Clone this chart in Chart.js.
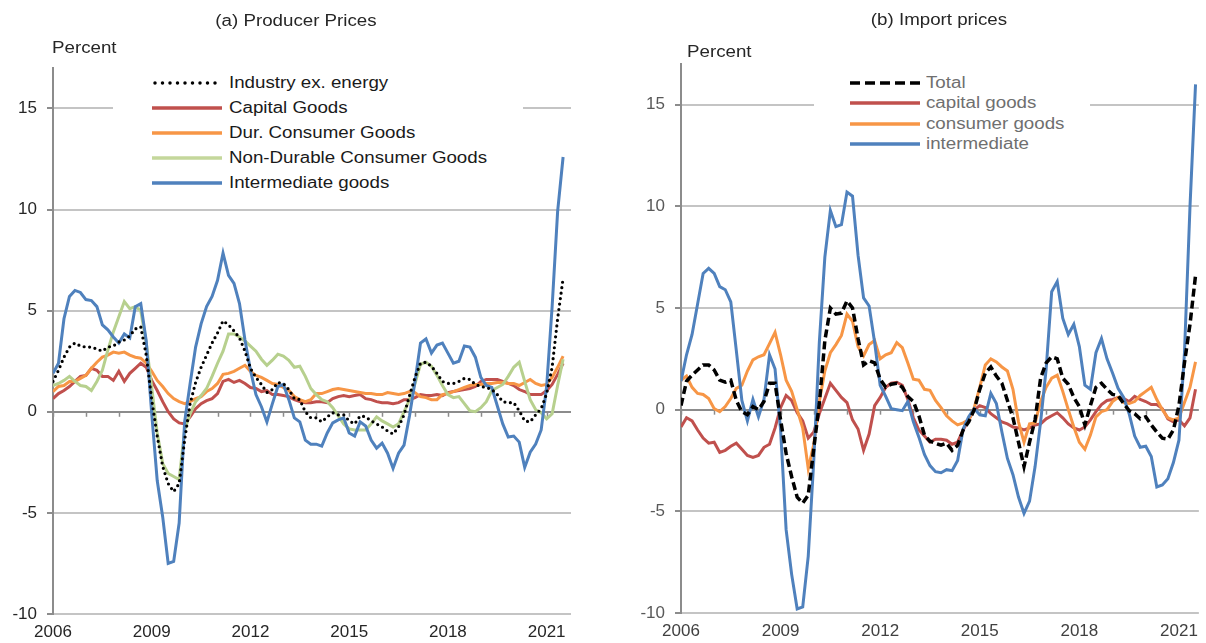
<!DOCTYPE html>
<html>
<head>
<meta charset="utf-8">
<script src="https://cdn.jsdelivr.net/npm/chart.js@4.4.1/dist/chart.umd.min.js"></script>
<style>
  body { margin: 0; background: #fff; font-family: "Liberation Sans", Arial, sans-serif; }
  #wrap { position: relative; width: 1206px; height: 643px; overflow: hidden; }
  .panel { position: absolute; top: 0; width: 603px; height: 643px; }
  .txt { position: absolute; font-size: 16px; line-height: 18px; white-space: nowrap; }
  .title { transform: translateX(-50%) scaleX(1.17); color: #262626; }
  .unit { transform: scaleX(1.17); transform-origin: left center; color: #262626; }
  .legend { position: absolute; background: #fff; font-size: 16px; }
  .legend .row { display: flex; align-items: center; white-space: nowrap; }
  .legend svg { display: block; flex: none; }
  .legend .lab { display: inline-block; transform: scaleX(1.17); transform-origin: left center; }
</style>
</head>
<body>
<div id="wrap">
  <div class="panel" style="left:0">
    <canvas id="leftChart" width="603" height="643"></canvas>
    <div class="txt title" style="left:296px; top:12px">(a) Producer Prices</div>
    <div class="txt unit" style="left:52px; top:39px">Percent</div>
    <div class="legend" id="leftLegend" style="left:113px; top:70px; width:410px; padding-left:39px; box-sizing:border-box; color:#1a1a1a"></div>
  </div>
  <div class="panel" style="left:603px">
    <canvas id="rightChart" width="603" height="643"></canvas>
    <div class="txt title" style="left:336px; top:11px">(b) Import prices</div>
    <div class="txt unit" style="left:84px; top:43px">Percent</div>
    <div class="legend" id="rightLegend" style="left:211px; top:73px; width:276px; padding-left:36px; box-sizing:border-box; color:#6f6f6f"></div>
  </div>
</div>
<script>
// bimonthly observations, Jan 2006 .. Jul 2021
const dates = Array.from({ length: 94 }, (_, k) => 2006 + k / 6);
const xLabels = [2006, 2009, 2012, 2015, 2018, 2021];
const yTicks = [-10, -5, 0, 5, 10, 15];
const yearMarks = [2006, 2007, 2008, 2009, 2010, 2011, 2012, 2013, 2014, 2015, 2016, 2017, 2018, 2019, 2020, 2021];

// (a) producer prices
const industryExEnergy = [
  1.5, 2.05, 2.7, 3.2, 3.4, 3.25, 3.2, 3.2, 3.1, 3.0,
  3.2, 3.25, 3.45, 3.55, 3.75, 4.1, 4.2, 2.8, 0.6, -1.2,
  -2.7, -3.55, -3.95, -3.55, -1.4, 0.4, 1.45, 2.2, 2.8, 3.4,
  3.9, 4.5, 4.3, 4.0, 3.65, 3.0, 2.15, 1.7, 1.35, 0.95,
  1.1, 1.45, 1.4, 1.1, 0.65, 0.6, 0.0, -0.3, -0.3, -0.5,
  -0.25, -0.05, -0.15, -0.15, -0.45, -0.6, -0.2, -0.25, -0.45, -0.6,
  -0.75, -0.95, -1.1, -0.75, -0.15, 0.8, 1.7, 2.4, 2.45, 2.25,
  1.9, 1.5, 1.4, 1.4, 1.5, 1.65, 1.6, 1.35, 1.25, 1.2,
  1.1, 0.85, 0.5, 0.45, 0.45, 0.05, -0.45, -0.5, -0.15, 0.15,
  0.9, 2.2, 4.6, 6.6
];
const capitalGoods = [
  0.65, 0.9, 1.05, 1.25, 1.5, 1.75, 1.8, 2.15, 2.05, 1.75,
  1.75, 1.55, 2.0, 1.5, 1.9, 2.15, 2.4, 2.2, 1.55, 1.05,
  0.5, 0.0, -0.35, -0.55, -0.6, -0.25, 0.15, 0.4, 0.55, 0.65,
  0.9, 1.5, 1.6, 1.45, 1.55, 1.4, 1.2, 1.15, 1.0, 1.05,
  0.85, 0.85, 0.8, 0.75, 0.6, 0.5, 0.45, 0.45, 0.5, 0.5,
  0.45, 0.65, 0.75, 0.8, 0.75, 0.8, 0.85, 0.65, 0.6, 0.5,
  0.45, 0.45, 0.4, 0.45, 0.6, 0.6, 0.7, 0.85, 0.8, 0.8,
  0.85, 0.8, 0.95, 1.0, 1.05, 1.1, 1.15, 1.25, 1.5, 1.6,
  1.6, 1.6, 1.5, 1.4, 1.3, 1.1, 1.0, 0.85, 0.85, 0.85,
  1.05, 1.35, 1.85, 2.4
];
const durConsumer = [
  1.0, 1.25, 1.3, 1.5, 1.5, 1.65, 1.8, 2.15, 2.45, 2.7,
  2.8, 2.95, 2.9, 2.95, 2.8, 2.7, 2.65, 2.4, 2.0, 1.55,
  1.25, 0.9, 0.65, 0.5, 0.4, 0.5, 0.65, 0.75, 1.0, 1.15,
  1.4, 1.85, 1.9, 2.0, 2.15, 2.3, 2.0, 1.8, 1.7, 1.55,
  1.4, 1.35, 1.2, 1.05, 0.75, 0.6, 0.5, 0.6, 0.9, 0.9,
  1.0, 1.1, 1.15, 1.1, 1.05, 1.0, 0.95, 0.9, 0.9, 0.85,
  0.85, 0.95, 0.9, 0.85, 0.9, 1.0, 0.95, 0.75, 0.7, 0.6,
  0.6, 0.85, 0.9, 1.0, 1.1, 1.2, 1.3, 1.35, 1.35, 1.4,
  1.4, 1.45, 1.45, 1.4, 1.4, 1.3, 1.45, 1.6, 1.4, 1.3,
  1.35, 1.7, 2.2, 2.75
];
const nonDurConsumer = [
  1.3, 1.4, 1.55, 1.75, 1.5, 1.3, 1.25, 1.05, 1.5, 2.05,
  3.05, 3.95, 4.7, 5.45, 5.1, 5.2, 5.0, 3.4, 1.2, -1.05,
  -2.55, -3.05, -3.2, -3.35, -0.9, -0.1, 0.5, 0.8, 1.15, 1.75,
  2.4, 3.0, 3.85, 3.85, 3.7, 3.5, 3.25, 3.0, 2.6, 2.3,
  2.55, 2.85, 2.75, 2.55, 2.2, 2.25, 1.75, 1.15, 0.85, 0.6,
  0.5, 0.2, -0.2, -0.6, -0.85, -0.9, -0.9, -0.9, -0.6, -0.25,
  -0.45, -0.6, -0.75, -0.6, 0.0, 0.6, 1.4, 2.35, 2.45, 2.25,
  1.8, 1.3, 0.85, 0.7, 0.75, 0.4, 0.05, 0.0, 0.2, 0.5,
  1.05, 1.2, 1.35, 1.75, 2.2, 2.45, 1.5, 0.6, 0.1, -0.05,
  -0.35, -0.1, 1.3, 2.6
];
const intermediateGoods = [
  1.9, 2.4, 4.6, 5.7, 6.0, 5.9, 5.55, 5.5, 5.2, 4.3,
  4.05, 3.7, 3.4, 3.85, 3.65, 5.2, 5.35, 3.5, -0.1, -3.4,
  -5.2, -7.5, -7.4, -5.5, -0.5, 1.4, 3.2, 4.35, 5.2, 5.7,
  6.5, 7.85, 6.75, 6.35, 5.35, 3.55, 2.05, 0.85, 0.25, -0.5,
  0.4, 1.25, 1.35, 0.6, -0.3, -0.5, -1.4, -1.6, -1.6, -1.7,
  -1.05, -0.55, -0.4, -0.3, -1.05, -1.2, -0.5, -0.7, -1.4, -1.8,
  -1.55, -2.05, -2.8, -2.05, -1.65, -0.2, 1.5, 3.4, 3.6, 2.9,
  3.3, 3.4, 2.9, 2.4, 2.5, 3.25, 3.2, 2.7, 1.7, 1.3,
  1.2, 0.3, -0.6, -1.25, -1.2, -1.5, -2.75, -2.0, -1.6, -0.9,
  1.25, 5.2, 9.9, 12.6
];

// (b) import prices
const importTotal = [
  0.2, 1.4, 1.7, 1.95, 2.2, 2.2, 1.95, 1.45, 1.35, 1.45,
  0.45, -0.1, -0.25, 0.15, 0.0, 0.4, 1.3, 1.3, -0.5, -2.15,
  -3.3, -4.3, -4.6, -4.2, -1.9, 0.3, 3.4, 5.0, 4.7, 4.75,
  5.35, 5.0, 3.5, 2.2, 2.4, 2.3, 1.5, 1.1, 1.25, 1.3,
  1.1, 0.65, 0.4, -0.3, -1.25, -1.55, -1.65, -1.75, -1.65, -2.0,
  -1.75, -1.0, -0.6, 0.0, 1.0, 1.8, 2.1, 1.65, 1.3, 0.45,
  -0.4, -1.6, -2.8, -1.6, -0.5, 1.55, 2.3, 2.6, 2.5, 1.55,
  1.25, 0.6, 0.15, -0.75, 0.2, 1.1, 1.3, 1.0, 0.75, 0.7,
  0.3, -0.05, -0.2, -0.45, -0.35, -0.75, -1.1, -1.4, -1.45, -1.0,
  0.2, 2.3, 4.2, 6.6
];
const importCapital = [
  -0.85, -0.4, -0.55, -1.0, -1.4, -1.65, -1.6, -2.1, -2.0, -1.8,
  -1.65, -1.95, -2.25, -2.35, -2.25, -1.85, -1.7, -0.9, 0.1, 0.7,
  0.45, -0.15, -0.55, -1.4, -1.1, -0.2, 0.55, 1.3, 0.95, 0.6,
  0.35, -0.5, -0.95, -2.0, -1.2, 0.2, 0.6, 1.1, 1.3, 1.35,
  1.2, 0.5, -0.4, -1.0, -1.3, -1.6, -1.45, -1.45, -1.5, -1.7,
  -1.6, -1.0, -0.5, 0.0, 0.2, 0.1, -0.2, -0.4, -0.6, -0.7,
  -0.85, -0.9, -1.0, -0.9, -0.75, -0.7, -0.45, -0.3, -0.15, -0.4,
  -0.7, -0.9, -1.0, -0.85, -0.5, -0.1, 0.25, 0.45, 0.5, 0.6,
  0.55, 0.4, 0.65, 0.5, 0.4, 0.25, 0.25, 0.05, -0.45, -0.6,
  -0.5, -0.8, -0.4, 1.0
];
const importConsumer = [
  1.45, 1.65, 1.1, 0.8, 0.75, 0.55, 0.05, -0.1, 0.15, 0.55,
  1.05, 1.2, 1.9, 2.45, 2.6, 2.7, 3.25, 3.8, 2.7, 1.45,
  0.9, 0.0, -0.9, -2.9, -1.7, 0.4, 1.9, 2.8, 3.2, 3.65,
  4.7, 4.35, 3.1, 2.65, 3.2, 3.4, 2.5, 2.7, 2.8, 3.3,
  3.05, 2.3, 1.5, 1.45, 1.0, 0.95, 0.45, 0.1, -0.3, -0.55,
  -0.75, -0.65, -0.5, 0.1, 1.1, 2.2, 2.5, 2.35, 2.1, 1.9,
  1.0, -0.6, -1.6, -0.7, -0.65, 0.4, 1.1, 1.55, 1.7, 0.9,
  0.0, -0.85, -1.6, -1.95, -1.25, -0.35, -0.1, 0.0, 0.4, 0.6,
  0.35, 0.3, 0.4, 0.7, 0.9, 1.1, 0.5, 0.0, -0.4, -0.5,
  -0.4, 0.35, 1.1, 2.35
];
const importIntermediate = [
  1.4, 2.7, 3.7, 5.2, 6.7, 6.95, 6.7, 6.05, 5.9, 5.3,
  2.9, 0.45, -0.55, 0.5, -0.35, 0.5, 2.7, 2.0, -1.0, -5.9,
  -8.1, -9.8, -9.7, -7.2, -2.5, 3.3, 7.5, 9.8, 9.0, 9.1,
  10.7, 10.5, 7.6, 5.5, 5.1, 3.3, 1.2, 0.65, 0.05, 0.0,
  -0.05, 0.4, -0.6, -1.35, -2.2, -2.75, -3.05, -3.1, -2.95, -3.0,
  -2.5, -0.95, -0.35, 0.05, -0.25, -0.3, 0.8, 0.3, -1.1, -2.4,
  -3.2, -4.3, -5.1, -4.5, -2.8, -0.6, 2.0, 5.8, 6.3, 4.5,
  3.7, 4.2, 3.1, 1.2, 1.0, 2.8, 3.5, 2.5, 1.8, 1.05,
  0.6, -0.2, -1.3, -1.85, -1.8, -2.3, -3.8, -3.7, -3.4, -2.6,
  -1.5, 2.8, 10.0, 16.0
];

const FONT = '"Liberation Sans", Arial, sans-serif';

function points(values) {
  return values.map((v, i) => ({ x: dates[i], y: v }));
}

function series(label, values, color, extra) {
  return Object.assign({
    label: label,
    data: points(values),
    borderColor: color,
    backgroundColor: color,
    borderWidth: 3,
    pointRadius: 0,
    tension: 0,
    fill: false
  }, extra || {});
}

// axis line at zero with a small mark every year
const zeroAxis = {
  id: 'zeroAxis',
  beforeDatasetsDraw(chart) {
    const { ctx, scales: { x, y } } = chart;
    const y0 = y.getPixelForValue(0);
    ctx.save();
    ctx.strokeStyle = '#8c8c8c';
    ctx.lineWidth = 1.5;
    yearMarks.forEach(yr => {
      const px = Math.round(x.getPixelForValue(yr)) + 0.5;
      ctx.beginPath();
      ctx.moveTo(px, y0);
      ctx.lineTo(px, y0 + 5);
      ctx.stroke();
    });
    ctx.restore();
  }
};

function makeChart(id, datasets, box, colors) {
  return new Chart(document.getElementById(id), {
    type: 'line',
    data: { datasets: datasets },
    options: {
      responsive: false,
      animation: false,
      events: [],
      layout: { padding: { top: box.top, right: box.right, left: 0, bottom: 0 } },
      plugins: { legend: { display: false }, tooltip: { enabled: false } },
      scales: {
        x: {
          type: 'linear',
          min: 2006,
          max: box.xMax,
          grid: { display: false, drawTicks: false },
          border: { display: false },
          afterBuildTicks: s => { s.ticks = xLabels.map(v => ({ value: v })); },
          afterFit: s => { s.height = box.bottom; },
          ticks: {
            color: colors.x,
            font: { family: FONT, size: 17 },
            padding: 8,
            maxRotation: 0,
            autoSkip: false,
            callback: v => String(v)
          }
        },
        y: {
          min: -10,
          max: 17,
          afterBuildTicks: s => { s.ticks = yTicks.map(v => ({ value: v })); },
          afterFit: s => { s.width = box.left; },
          grid: {
            color: c => (c.tick && c.tick.value === 0) ? '#8c8c8c' : '#c4c4c4',
            lineWidth: 2,
            tickColor: '#8c8c8c',
            tickLength: 6
          },
          border: { color: '#8c8c8c', width: 2 },
          ticks: { color: colors.y, font: { family: FONT, size: 17 }, padding: 10 }
        }
      }
    },
    plugins: [zeroAxis]
  });
}

makeChart('leftChart', [
  series('Industry ex. energy', industryExEnergy, '#000000', { borderWidth: 3.2, borderDash: [0, 5.5], borderCapStyle: 'round', order: 0 }),
  series('Intermediate goods', intermediateGoods, '#4f81bd', { order: 1 }),
  series('Non-Durable Consumer Goods', nonDurConsumer, '#b7d08e', { order: 2 }),
  series('Dur. Consumer Goods', durConsumer, '#f79646', { order: 3 }),
  series('Capital Goods', capitalGoods, '#c0504d', { order: 4 })
], { top: 68, right: 32, left: 53, bottom: 29, xMax: 2021.74 }, { x: '#262626', y: '#262626' });

makeChart('rightChart', [
  series('Total', importTotal, '#000000', { borderWidth: 3.5, borderDash: [8, 4], order: 0 }),
  series('intermediate', importIntermediate, '#4f81bd', { order: 1 }),
  series('consumer goods', importConsumer, '#f79646', { order: 2 }),
  series('capital goods', importCapital, '#c0504d', { order: 3 })
], { top: 64, right: 4, left: 78, bottom: 30, xMax: 2021.6 }, { x: '#404040', y: '#595959' });

// HTML legends
function swatch(color, kind) {
  let dash = '';
  if (kind === 'dot') dash = ' stroke-dasharray="0 7.5" stroke-linecap="round"';
  if (kind === 'dash') dash = ' stroke-dasharray="10 5"';
  return `<svg width="70" height="6"><line x1="${kind === 'dot' ? 3 : 0}" y1="3" x2="70" y2="3" stroke="${color}" stroke-width="${kind ? 3.5 : 3.5}"${dash}/></svg>`;
}

function buildLegend(id, items, rowH, gap) {
  const el = document.getElementById(id);
  el.innerHTML = items.map(it =>
    `<div class="row" style="height:${rowH}px">${swatch(it.color, it.kind)}<span class="lab" style="margin-left:${gap}px">${it.label}</span></div>`
  ).join('');
}

buildLegend('leftLegend', [
  { label: 'Industry ex. energy', color: '#000000', kind: 'dot' },
  { label: 'Capital Goods', color: '#c0504d' },
  { label: 'Dur. Consumer Goods', color: '#f79646' },
  { label: 'Non-Durable Consumer Goods', color: '#c4d79b' },
  { label: 'Intermediate goods', color: '#4f81bd' }
], 25, 7);

buildLegend('rightLegend', [
  { label: 'Total', color: '#000000', kind: 'dash' },
  { label: 'capital goods', color: '#c0504d' },
  { label: 'consumer goods', color: '#f79646' },
  { label: 'intermediate', color: '#4f81bd' }
], 20.3, 6);
</script>
</body>
</html>
